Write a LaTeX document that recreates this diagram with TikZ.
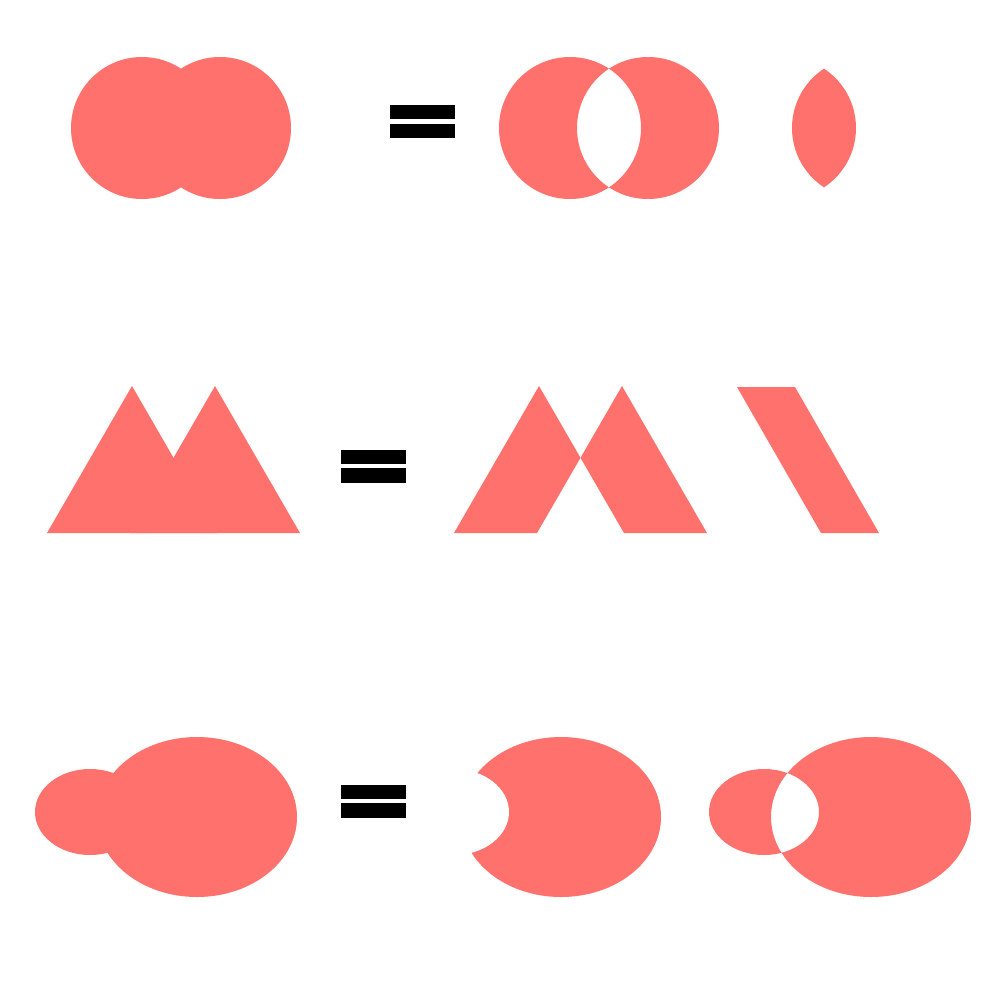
\documentclass[tikz,border=0pt]{standalone}
\definecolor{sal}{RGB}{255,113,108}
\begin{document}
\begin{tikzpicture}[x=0.1mm,y=-0.1mm,
  shapefill/.style={fill=sal,draw=none},
  holefill/.style={fill=white,draw=none},
  eqbar/.style={fill=black,draw=none}]
\useasboundingbox (0,0) rectangle (1000,1000);
\fill[white] (0,0) rectangle (1000,1000);
% ---------- Row 1: circles ----------
\fill[shapefill] (142,128) circle[radius=71];
\fill[shapefill] (220,128) circle[radius=71];
\fill[eqbar] (390,105) rectangle (455,119);
\fill[eqbar] (390,124) rectangle (455,138);
\fill[shapefill,even odd rule] (570,128) circle[radius=71] (648,128) circle[radius=71];
\begin{scope}
  \clip (785,128) circle[radius=71];
  \fill[shapefill] (863,128) circle[radius=71];
\end{scope}
% ---------- Row 2: triangles ----------
\fill[shapefill] (132,386) -- (47,533) -- (217,533) -- cycle;
\fill[shapefill] (215,386) -- (130,533) -- (300,533) -- cycle;
\fill[eqbar] (341,450) rectangle (406,464);
\fill[eqbar] (341,468) rectangle (406,483);
\fill[shapefill] (539,386) -- (454,533) -- (537,533) -- (580.5,457.8) -- cycle;
\fill[shapefill] (622,386) -- (707,533) -- (624,533) -- (580.5,457.8) -- cycle;
\fill[shapefill] (737,387) -- (795,387) -- (879,533) -- (821,533) -- cycle;
% ---------- Row 3: ellipses ----------
\fill[shapefill] (90,812) ellipse[x radius=55,y radius=43];
\fill[shapefill] (197,817) ellipse[x radius=100,y radius=80];
\fill[eqbar] (341,785) rectangle (406,799);
\fill[eqbar] (341,803) rectangle (406,818);
\fill[shapefill] (561,817) ellipse[x radius=100,y radius=80];
\begin{scope}
  \clip (440,740) rectangle (560,890);
  \fill[holefill] (454,812) ellipse[x radius=55,y radius=43];
\end{scope}
\fill[shapefill,even odd rule] (764,812) ellipse[x radius=55,y radius=43]
  (871,817) ellipse[x radius=100,y radius=80];
\end{tikzpicture}
\end{document}
